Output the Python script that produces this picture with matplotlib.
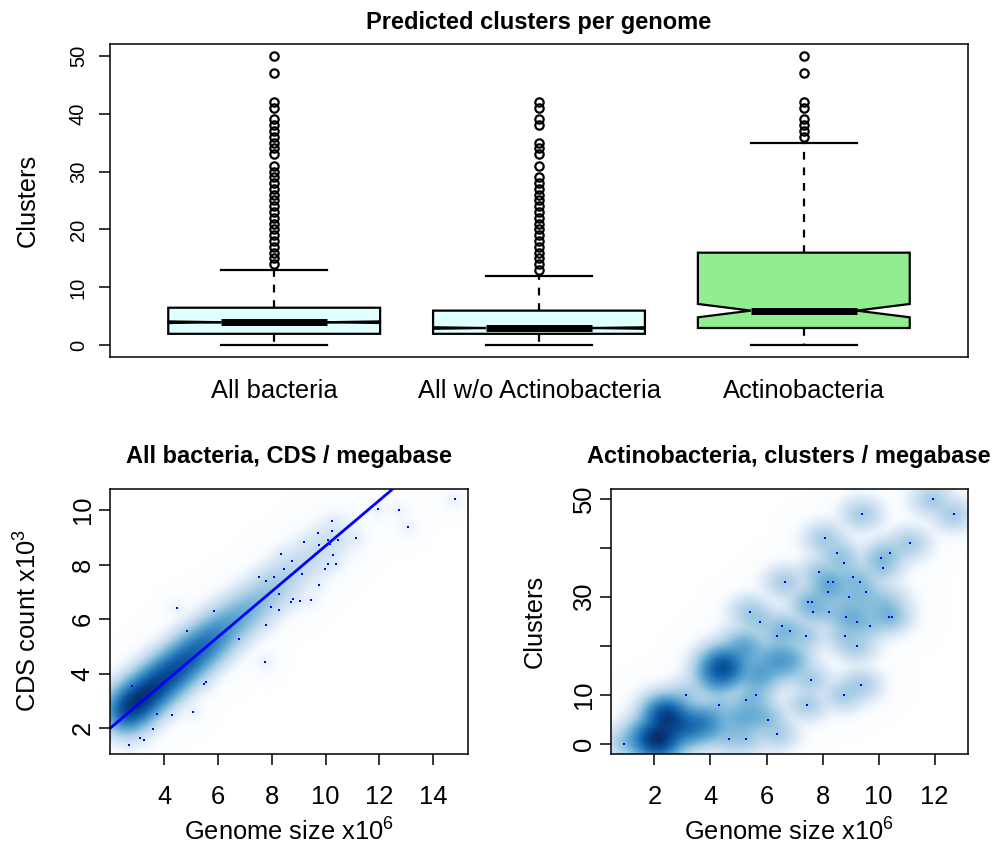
import numpy as np
import matplotlib.pyplot as plt
from matplotlib.colors import LinearSegmentedColormap

plt.rcParams['font.family'] = ['Liberation Sans', 'DejaVu Sans']
plt.rcParams['mathtext.default'] = 'regular'

# ---- top panel: predicted clusters per genome ----
groups = ['All bacteria', 'All w/o Actinobacteria', 'Actinobacteria']
box_lo = [0, 0, 0]
box_q1 = [2, 2, 3]
box_med = [4, 3, 6]
box_q3 = [6.5, 6, 16]
box_hi = [13, 12, 35]
box_cilo = [3.86, 2.87, 4.85]
box_cihi = [4.14, 3.13, 7.15]
box_fill = ['#E0FFFF', '#E0FFFF', '#90EE90']
out_all = [14, 15, 16, 17, 18, 19, 20, 21, 22, 23, 24, 25, 26, 27, 28, 29, 30, 31,
           33, 34, 35, 36, 37, 38, 39, 41, 42, 47, 50]
out_noact = [13, 14, 15, 16, 17, 18, 19, 20, 21, 22, 23, 24, 25, 26, 27, 28, 29,
             31, 33, 34, 35, 38, 39, 41, 42]
out_act = [36, 37, 38, 39, 41, 42, 47, 50]

# ---- bottom left: all bacteria, CDS count vs genome size ----
cds_x = [14.79, 11.94, 12.71, 13.05, 10.23, 10.25, 9.70, 9.20, 10.08, 10.47,
         11.14, 10.15, 9.74, 8.36, 8.77, 10.26, 10.08, 10.37, 9.96, 8.47,
         9.12, 7.54, 7.80, 8.09, 9.76, 8.25, 8.78, 8.72, 9.06, 9.45,
         7.97, 8.28, 4.47, 5.85, 7.79, 4.86, 6.79, 7.74, 2.82, 5.54,
         5.49, 3.75, 4.29, 5.07, 3.59, 3.10, 3.26, 2.71]
cds_y = [10.40, 10.03, 10.01, 9.39, 9.58, 9.23, 9.15, 8.84, 8.89, 8.91,
         8.99, 8.76, 8.70, 8.38, 8.13, 8.36, 8.03, 8.04, 7.83, 7.83,
         7.67, 7.53, 7.40, 7.56, 7.24, 6.91, 6.75, 6.64, 6.68, 6.72,
         6.45, 6.35, 6.40, 6.30, 5.79, 5.58, 5.27, 4.44, 3.54, 3.70,
         3.63, 2.53, 2.49, 2.60, 1.99, 1.64, 1.57, 1.40]
# dense (hidden) mass along the ridge: position and weight
cds_hx = [2.5, 2.8, 3.1, 3.4, 3.7, 4.0, 4.3, 4.6, 4.9, 5.2, 5.5, 5.8,
          6.1, 6.5, 6.9, 7.3, 7.7, 8.1, 8.5, 9.0, 9.5, 10.0, 10.5]
cds_hy = [2.58, 2.83, 3.08, 3.33, 3.58, 3.83, 4.08, 4.33, 4.58, 4.83, 5.08, 5.33,
          5.58, 5.90, 6.20, 6.50, 6.85, 7.20, 7.55, 7.95, 8.35, 8.75, 9.10]
cds_hw = [500, 600, 600, 520, 470, 420, 380, 340, 300, 260, 210, 170,
          130, 100, 75, 55, 40, 28, 20, 14, 10, 7, 4]
cds_fit = [0.338, 0.835]  # intercept, slope

# ---- bottom right: actinobacteria, clusters vs genome size ----
act_x = [0.90, 3.13, 4.29, 4.65, 5.28, 5.28, 5.62, 6.05, 6.36,
         5.41, 5.77, 6.55, 6.38, 6.82, 6.66, 7.40, 7.48, 7.62, 7.65,
         7.43, 7.57, 7.89, 8.08, 8.20, 8.37, 8.21, 8.23, 8.53, 8.77,
         8.94, 8.82, 8.79, 9.22, 9.23, 9.10, 9.35, 9.55, 9.69, 9.42,
         8.76, 9.38, 10.08, 10.14, 10.39, 10.36, 10.46, 11.13, 11.94, 12.70]
act_y = [0, 10, 8, 1, 1, 9, 10, 5, 2,
         27, 25, 24, 22, 23, 33, 22, 29, 29, 27,
         8, 13, 35, 42, 33, 33, 31, 27, 39, 37,
         30, 26, 22, 25, 20, 34, 33, 31, 24, 47,
         10, 12, 38, 36, 39, 26, 26, 41, 50, 47]
act_hx = [1.6, 2.1, 2.4, 2.9, 3.4, 3.9, 4.4, 4.6, 4.2, 5.2, 5.7, 6.3, 6.8,
          5.0, 5.6, 10.2, 9.0, 8.3, 9.4]
act_hy = [1.0, 0.8, 5.5, 3.0, 4.0, 4.0, 15.5, 16.0, 13.5, 19.5, 14.0, 17.0, 17.0,
          5.0, 6.0, 28.5, 26.0, 32.0, 28.0]
act_hw = [5, 30, 25, 9, 7, 5, 15, 5, 4, 4, 4, 3.5, 3,
          2.5, 2, 1.5, 1, 1, 1]

W, H = 994, 850


def fx(px):
    return px / W


def fy(py):
    return 1 - py / H


blues9 = ['#F7FBFF', '#DEEBF7', '#C6DBEF', '#9ECAE1', '#6BAED6',
          '#4292C6', '#2171B5', '#08519C', '#08306B']
ramp = LinearSegmentedColormap.from_list('smooth', ['white'] + blues9, N=256)


def smooth_scatter(ax, xlim, ylim, px, py, hx, hy, hw, s, hs):
    gx = np.linspace(xlim[0], xlim[1], 128)
    gy = np.linspace(ylim[0], ylim[1], 128)
    X, Y = np.meshgrid(gx, gy)
    D = np.zeros_like(X)
    for x, y in zip(px, py):
        D += np.exp(-0.5 * (((X - x) / s[0]) ** 2 + ((Y - y) / s[1]) ** 2))
    for x, y, w in zip(hx, hy, hw):
        D += w * np.exp(-0.5 * (((X - x) / hs[0]) ** 2 + ((Y - y) / hs[1]) ** 2))
    D = D ** 0.25
    D = D / D.max()
    ax.imshow(D, extent=[xlim[0], xlim[1], ylim[0], ylim[1]], origin='lower',
              aspect='auto', cmap=ramp, vmin=0, vmax=1, interpolation='bilinear')
    ax.plot(px, py, 's', color='blue', ms=2.1, mew=0)
    ax.set_xlim(xlim)
    ax.set_ylim(ylim)


fig = plt.figure(figsize=(W / 100, H / 100), dpi=100)

# top boxplot
ax = fig.add_axes([fx(110), fy(357), (968 - 110) / W, (357 - 44) / H])
fliers = [out_all, out_noact, out_act]
stats = []
for i in range(3):
    stats.append(dict(whislo=box_lo[i], q1=box_q1[i], med=box_med[i], q3=box_q3[i],
                      whishi=box_hi[i], cilo=box_cilo[i], cihi=box_cihi[i],
                      fliers=fliers[i], label=groups[i]))
bp = ax.bxp(stats, positions=[1, 2, 3], widths=0.8, capwidths=0.4,
            shownotches=True, patch_artist=True,
            boxprops=dict(edgecolor='black', linewidth=1.6),
            whiskerprops=dict(color='black', linewidth=1.6, linestyle=(0, (3.5, 3.5))),
            capprops=dict(color='black', linewidth=1.6),
            medianprops=dict(color='black', linewidth=5, solid_capstyle='butt'),
            flierprops=dict(marker='o', markerfacecolor='none', markeredgecolor='black',
                            markersize=6, markeredgewidth=1.6))
for patch, c in zip(bp['boxes'], box_fill):
    patch.set_facecolor(c)
ax.set_xlim(0.38, 3.62)
ax.set_ylim(-2, 52)
ax.set_yticks([0, 10, 20, 30, 40, 50])
ax.tick_params(axis='y', labelsize=14.5, length=8, width=1.1, pad=8)
plt.setp(ax.get_yticklabels(), rotation=90, va='center')
ax.tick_params(axis='x', labelsize=18.4, length=0, pad=16)
for sp in ax.spines.values():
    sp.set_linewidth(1.1)
fig.text(fx(539), fy(22), 'Predicted clusters per genome', ha='center', va='center',
         fontsize=17, fontweight='bold')
fig.text(fx(28), fy(200), 'Clusters', ha='center', va='center', rotation=90, fontsize=18.4)

# bottom left
ax1 = fig.add_axes([fx(110), fy(754), (468 - 110) / W, (754 - 489) / H])
smooth_scatter(ax1, (1.99, 15.29), (1.06, 10.77), cds_x, cds_y,
               cds_hx, cds_hy, cds_hw, (0.2, 0.2), (0.38, 0.38))
ax1.axline((0, cds_fit[0]), slope=cds_fit[1], color='blue', lw=2)
ax1.set_xticks([4, 6, 8, 10, 12, 14])
ax1.set_yticks([2, 4, 6, 8, 10])
fig.text(fx(289), fy(457), 'All bacteria, CDS / megabase', ha='center', va='center',
         fontsize=17, fontweight='bold')
fig.text(fx(289), fy(832), 'Genome size x10$^6$', ha='center', va='center', fontsize=18.4)
fig.text(fx(28), fy(621), 'CDS count x10$^3$', ha='center', va='center',
         rotation=90, fontsize=18.4)

# bottom right
ax2 = fig.add_axes([fx(611), fy(754), (968 - 611) / W, (754 - 489) / H])
smooth_scatter(ax2, (0.45, 13.19), (-2, 52), act_x, act_y,
               act_hx, act_hy, act_hw, (0.35, 1.6), (0.4, 2.0))
ax2.set_xticks([2, 4, 6, 8, 10, 12])
ax2.set_yticks([0, 10, 20, 30, 40, 50])
ax2.set_yticklabels(['0', '10', '', '30', '', '50'])
fig.text(fx(789), fy(457), 'Actinobacteria, clusters / megabase', ha='center', va='center',
         fontsize=17, fontweight='bold')
fig.text(fx(789), fy(832), 'Genome size x10$^6$', ha='center', va='center', fontsize=18.4)
fig.text(fx(535), fy(621), 'Clusters', ha='center', va='center', rotation=90, fontsize=18.4)

for a in (ax1, ax2):
    a.tick_params(labelsize=18.4, length=8, width=1.1)
    a.tick_params(axis='x', pad=14)
    a.tick_params(axis='y', pad=3)
    plt.setp(a.get_yticklabels(), rotation=90, va='center')
    for sp in a.spines.values():
        sp.set_linewidth(1.1)

fig.savefig('out.png', dpi=100)
